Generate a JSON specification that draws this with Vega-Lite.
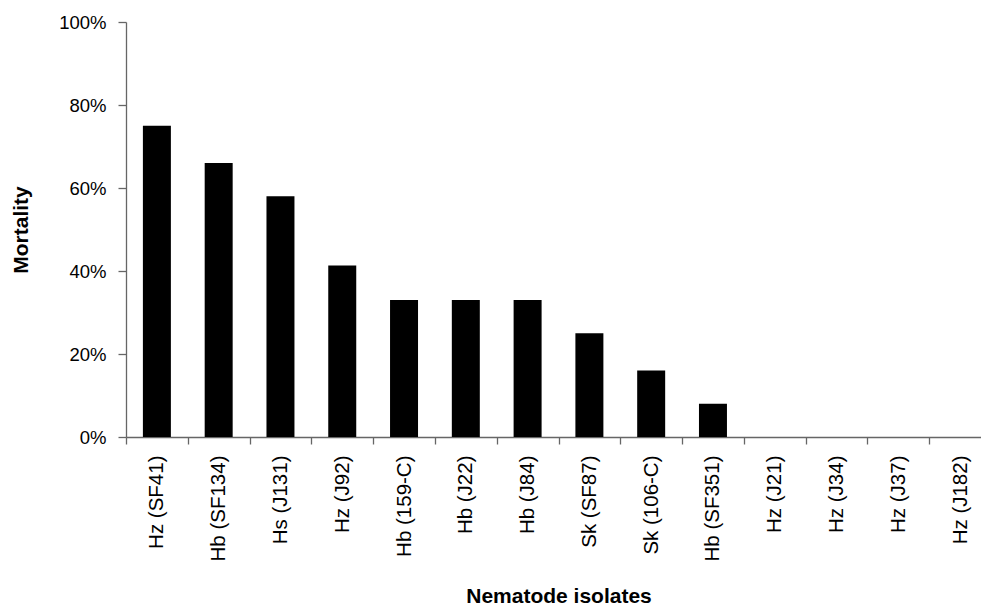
{
  "$schema": "https://vega.github.io/schema/vega-lite/v6.json",
  "autosize": "none",
  "width": 865,
  "height": 415,
  "padding": {"left": 126, "top": 22, "right": 0, "bottom": 170},
  "background": "white",
  "data": {
    "values": [
      {"isolate": "Hz (SF41)", "mortality": 0.75},
      {"isolate": "Hb (SF134)", "mortality": 0.66},
      {"isolate": "Hs (J131)", "mortality": 0.58},
      {"isolate": "Hz (J92)", "mortality": 0.413},
      {"isolate": "Hb (159-C)", "mortality": 0.33},
      {"isolate": "Hb (J22)", "mortality": 0.33},
      {"isolate": "Hb (J84)", "mortality": 0.33},
      {"isolate": "Sk (SF87)", "mortality": 0.25},
      {"isolate": "Sk (106-C)", "mortality": 0.16},
      {"isolate": "Hb (SF351)", "mortality": 0.08},
      {"isolate": "Hz (J21)", "mortality": 0},
      {"isolate": "Hz (J34)", "mortality": 0},
      {"isolate": "Hz (J37)", "mortality": 0},
      {"isolate": "Hz (J182)", "mortality": 0}
    ]
  },
  "mark": {"type": "bar", "color": "black", "width": {"band": 0.453}},
  "encoding": {
    "x": {
      "field": "isolate",
      "type": "nominal",
      "sort": null,
      "scale": {"paddingInner": 0, "paddingOuter": 0},
      "axis": {
        "title": "Nematode isolates",
        "tickBand": "extent",
        "labelAngle": -90,
        "labelAlign": "right",
        "labelBaseline": "middle",
        "labelFontSize": 20.5,
        "labelPadding": 11,
        "tickSize": 7,
        "titlePadding": 25
      }
    },
    "y": {
      "field": "mortality",
      "type": "quantitative",
      "scale": {"domain": [0, 1], "nice": false},
      "axis": {
        "title": "Mortality",
        "values": [0, 0.2, 0.4, 0.6, 0.8, 1],
        "format": ".0%",
        "grid": false,
        "tickSize": 8,
        "labelPadding": 12,
        "titlePadding": 27
      }
    }
  },
  "config": {
    "view": {"stroke": null},
    "axis": {
      "labelFont": "Liberation Sans",
      "labelFontSize": 18.5,
      "labelColor": "black",
      "titleFont": "Liberation Sans",
      "titleFontSize": 21,
      "titleFontWeight": "bold",
      "titleColor": "black",
      "domainColor": "#666",
      "tickColor": "#666",
      "domainWidth": 1.3,
      "tickWidth": 1.3
    }
  }
}
